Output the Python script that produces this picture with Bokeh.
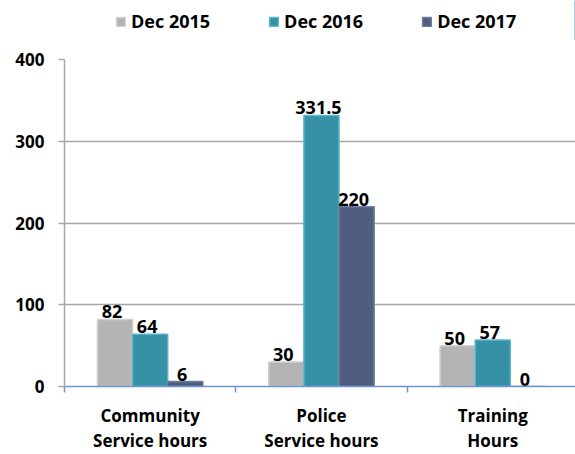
from bokeh.plotting import figure
from bokeh.layouts import column
from bokeh.models import Range1d, FixedTicker, Legend, LegendItem, ColumnDataSource
from bokeh.core.properties import value
from bokeh.embed import file_html
from bokeh.resources import INLINE

categories = ["Community\nService hours", "Police\nService hours", "Training\nHours"]
series = ["Dec 2015", "Dec 2016", "Dec 2017"]
dec2015 = [82, 30, 50]
dec2016 = [64, 331.5, 57]
dec2017 = [6, 220, 0]
y_ticks = [0, 100, 200, 300, 400]

colors = ["#b4b4b4", "#3690a6", "#4f5d80"]
edges = ["#d0d0d0", "#5bb6cc", "#6d7b9c"]
FONT = "Open Sans"

LEG_H = 40

p = figure(width=575, height=454 - LEG_H, output_backend="svg", toolbar_location=None,
           x_range=Range1d(0, 2.983), y_range=Range1d(0, 400),
           min_border_left=64, min_border_right=0, min_border_bottom=64,
           min_border_top=59 - LEG_H, outline_line_color=None)

bar_w = 0.205
offsets = [-bar_w, 0.0, bar_w]
for name, vals, off, col, edg in zip(series, [dec2015, dec2016, dec2017], offsets, colors, edges):
    xs = [i + 0.5 + off for i in range(len(categories))]
    src = ColumnDataSource(dict(x=xs, top=vals, lab=[f"{v:g}" for v in vals]))
    p.vbar(x="x", top="top", width=bar_w, source=src, fill_color=col,
           line_color=edg, line_width=1.5)
    p.text(x="x", y="top", text="lab", source=src, text_align="center",
           text_baseline="bottom", x_offset=-3, y_offset=-1, text_font=value(FONT),
           text_font_style="bold", text_font_size="18px", text_color="#000000")

# legend in its own strip above the chart (its frame aligns with the chart's frame)
lf = figure(width=575, height=LEG_H, output_backend="svg", toolbar_location=None,
            x_axis_type=None, y_axis_type=None, outline_line_color=None,
            min_border=0, x_range=Range1d(0, 1), y_range=Range1d(0, 1))
lf.xgrid.grid_line_color = None
lf.ygrid.grid_line_color = None
items = []
for name, col, edg in zip(series, colors, edges):
    # swatch renderer kept outside the visible range: only its legend glyph shows
    r = lf.vbar(x=[10], top=[1], width=0.1, fill_color=col, line_color=edg, line_width=1.5)
    items.append(LegendItem(label=name, renderers=[r]))
legend = Legend(items=items, orientation="horizontal", location=(51, 7),
                glyph_width=11, glyph_height=11, label_standoff=5, spacing=58,
                padding=0, margin=0, border_line_color=None,
                background_fill_alpha=0,
                label_text_font=FONT, label_text_font_style="bold",
                label_text_font_size="18px", label_text_color="#000000")
lf.add_layout(legend)

# y axis
p.yaxis.ticker = FixedTicker(ticks=y_ticks)
p.yaxis.axis_line_color = "#a6a6a6"
p.yaxis.axis_line_width = 1.5
p.yaxis.major_tick_line_color = "#a6a6a6"
p.yaxis.major_tick_line_width = 1.5
p.yaxis.major_tick_out = 6
p.yaxis.major_tick_in = 0
p.yaxis.minor_tick_line_color = None
p.yaxis.major_label_text_font = FONT
p.yaxis.major_label_text_font_style = "bold"
p.yaxis.major_label_text_font_size = "17px"
p.yaxis.major_label_text_color = "#000000"
p.yaxis.major_label_standoff = 14
p.ygrid.ticker = FixedTicker(ticks=y_ticks)
p.ygrid.grid_line_color = "#a6a6a6"
p.ygrid.grid_line_width = 1.5

# x axis
p.xaxis.ticker = FixedTicker(ticks=[i + 0.5 for i in range(len(categories))],
                             minor_ticks=list(range(len(categories) + 1)))
p.xaxis.major_label_overrides = {i + 0.5: c for i, c in enumerate(categories)}
p.xaxis.axis_line_color = "#6b95cf"
p.xaxis.axis_line_width = 1.5
p.xaxis.major_tick_line_color = None
p.xaxis.minor_tick_line_color = "#6b95cf"
p.xaxis.minor_tick_line_width = 1.5
p.xaxis.minor_tick_out = 6
p.xaxis.minor_tick_in = 0
p.xaxis.major_label_text_font = FONT
p.xaxis.major_label_text_font_style = "bold"
p.xaxis.major_label_text_font_size = "17px"
p.xaxis.major_label_text_line_height = 1.1
p.xaxis.major_label_text_color = "#000000"
p.xaxis.major_label_standoff = 11
p.xgrid.grid_line_color = None

layout = column(lf, p, spacing=0)
open("out.html", "w").write(file_html(layout, INLINE))
